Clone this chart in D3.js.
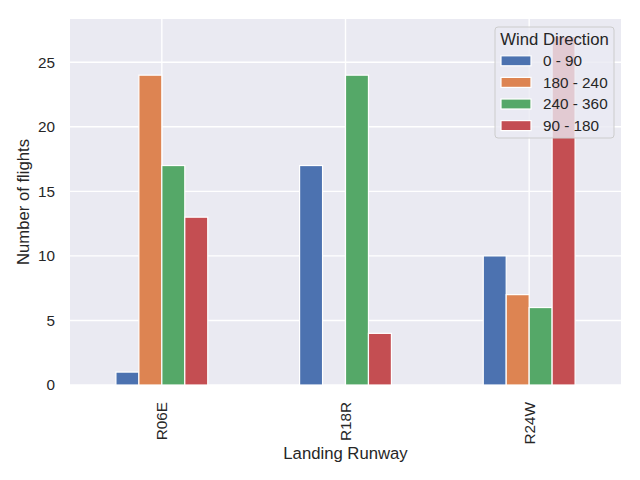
<!DOCTYPE html>
<html>
<head>
<meta charset="utf-8">
<script src="https://cdn.jsdelivr.net/npm/d3@7"></script>
<style>
  html, body { margin: 0; padding: 0; background: #fff; }
  svg { display: block; font-family: "Liberation Sans", Arial, "DejaVu Sans", sans-serif; }
</style>
</head>
<body>
<svg id="chart" width="640" height="480"></svg>
<script>
// ---- data ----
const categories = ["R06E", "R18R", "R24W"];
const seriesNames = ["0 - 90", "180 - 240", "240 - 360", "90 - 180"];
const values_0_90 = [1, 17, 10];
const values_180_240 = [24, 0, 7];
const values_240_360 = [17, 24, 6];
const values_90_180 = [13, 4, 27];
const yTicks = [0, 5, 10, 15, 20, 25];
const colors = ["#4C72B0", "#DD8452", "#55A868", "#C44E52"];

const seriesValues = [values_0_90, values_180_240, values_240_360, values_90_180];

// ---- layout ----
const svg = d3.select("#chart");
const pLeft = 70, pRight = 621, pTop = 19, pBottom = 385;

const x = d3.scaleLinear().domain([-0.5, categories.length - 0.5]).range([pLeft, pRight]);
const y = d3.scaleLinear().domain([0, 27 * 1.05]).range([pBottom, pTop]);

// background
svg.append("rect").attr("x", pLeft).attr("y", pTop)
  .attr("width", pRight - pLeft).attr("height", pBottom - pTop)
  .attr("fill", "#EAEAF2");

// grid
const grid = svg.append("g");
yTicks.forEach(t => {
  grid.append("line").attr("x1", pLeft).attr("x2", pRight)
    .attr("y1", y(t)).attr("y2", y(t))
    .attr("stroke", "#fff").attr("stroke-width", 1.4);
});
categories.forEach((c, i) => {
  grid.append("line").attr("y1", pTop).attr("y2", pBottom)
    .attr("x1", x(i)).attr("x2", x(i))
    .attr("stroke", "#fff").attr("stroke-width", 1.4);
});

// bars
const barW = 0.5 / seriesNames.length;
seriesValues.forEach((vals, s) => {
  svg.append("g").selectAll("rect").data(vals).join("rect")
    .attr("x", (d, i) => x(i - 0.25 + s * barW))
    .attr("width", x(barW) - x(0))
    .attr("y", d => y(d))
    .attr("height", d => y(0) - y(d))
    .attr("fill", colors[s])
    .attr("stroke", d => d > 0 ? "#fff" : "none")
    .attr("stroke-width", 1.2);
});

// y tick labels
yTicks.forEach(t => {
  svg.append("text").attr("x", 55).attr("y", y(t)).attr("dy", "0.35em")
    .attr("text-anchor", "end").attr("font-size", 15.3).attr("fill", "#262626")
    .text(t);
});

// x tick labels (rotated)
categories.forEach((c, i) => {
  svg.append("text")
    .attr("transform", `translate(${x(i)},${402}) rotate(-90)`)
    .attr("text-anchor", "end").attr("dy", "0.35em")
    .attr("font-size", 15.3).attr("fill", "#262626")
    .text(c);
});

// axis labels
svg.append("text").attr("x", (pLeft + pRight) / 2).attr("y", 459)
  .attr("text-anchor", "middle").attr("font-size", 16.7).attr("fill", "#262626")
  .text("Landing Runway");
svg.append("text")
  .attr("transform", `translate(${29},${(pTop + pBottom) / 2}) rotate(-90)`)
  .attr("text-anchor", "middle").attr("font-size", 16.7).attr("fill", "#262626")
  .text("Number of flights");

// legend
const lg = svg.append("g");
lg.append("rect").attr("x", 495).attr("y", 27).attr("width", 119).attr("height", 111)
  .attr("rx", 3).attr("fill", "#EAEAF2").attr("fill-opacity", 0.8)
  .attr("stroke", "#cccccc").attr("stroke-width", 1);
lg.append("text").attr("x", 554.5).attr("y", 44.5).attr("text-anchor", "middle")
  .attr("font-size", 16.7).attr("fill", "#262626").text("Wind Direction");
seriesNames.forEach((n, s) => {
  const cy = 60.8 + s * 21.6;
  lg.append("rect").attr("x", 501).attr("y", cy - 5).attr("width", 30).attr("height", 10)
    .attr("fill", colors[s]).attr("stroke", "#fff").attr("stroke-width", 1.2);
  lg.append("text").attr("x", 543).attr("y", cy).attr("dy", "0.35em")
    .attr("font-size", 15.3).attr("fill", "#262626").text(n);
});
</script>
</body>
</html>
